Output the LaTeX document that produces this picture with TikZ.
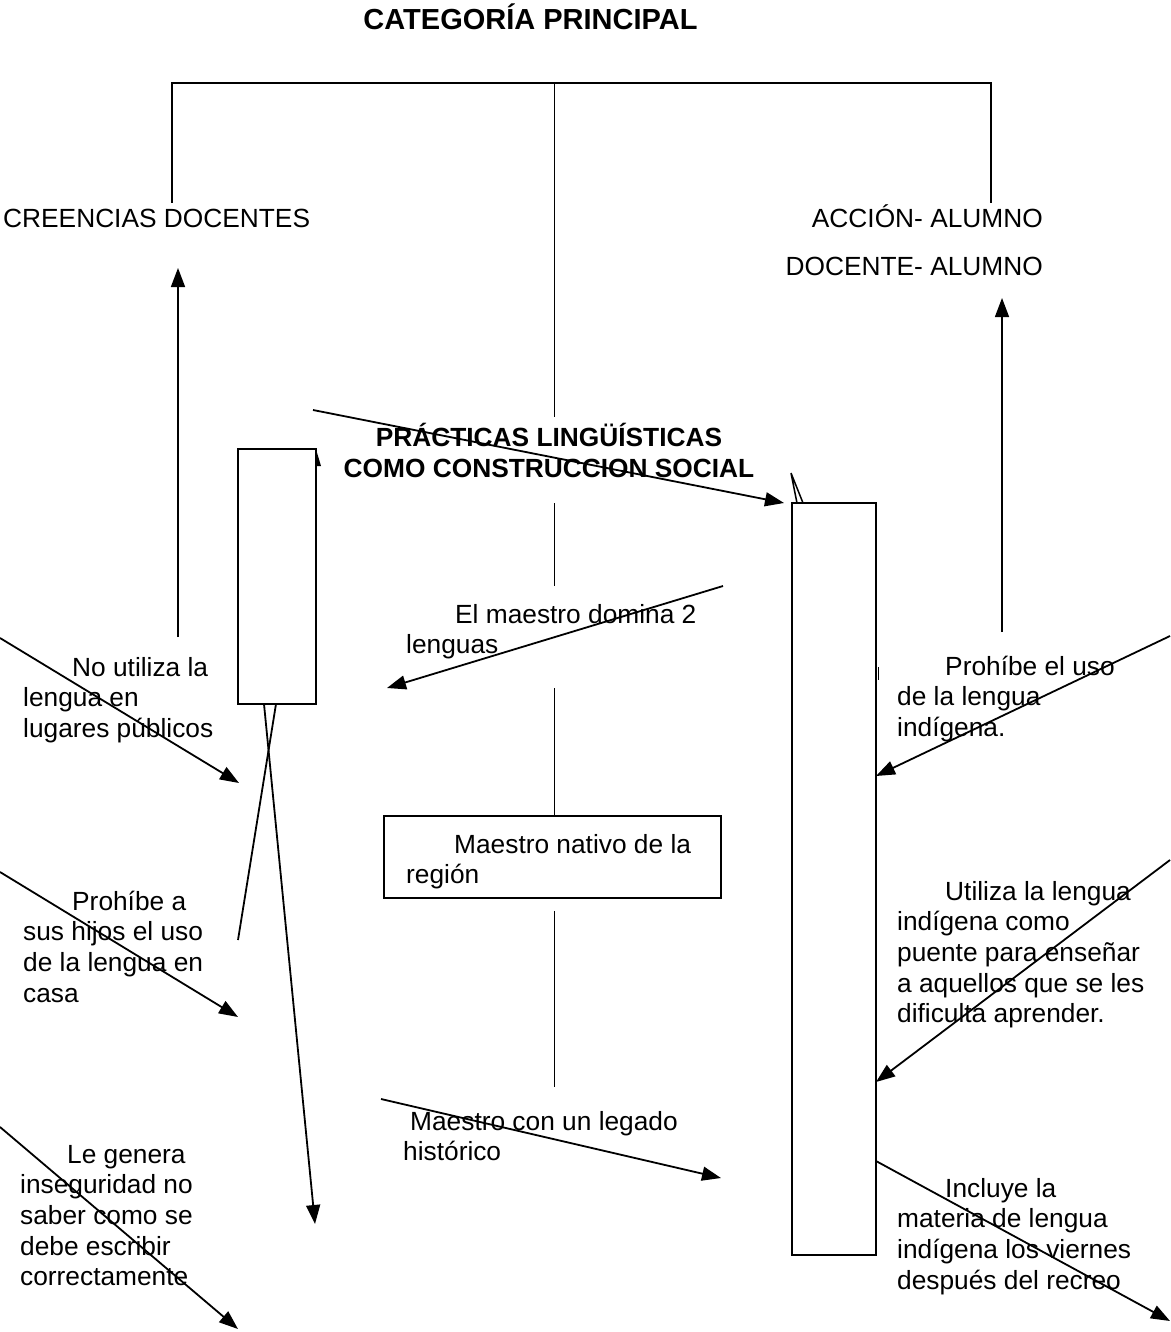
\documentclass[tikz,border=0pt]{standalone}
\usepackage{fontspec}
\setmainfont{Liberation Sans}
\usetikzlibrary{arrows.meta}
\newcommand\tst{\rule{0pt}{26pt}}
\tikzset{
  ln/.style={line width=1.8pt},
  arr/.style={line width=1.8pt, -{Triangle[length=19pt,width=14pt]}},
  bx/.style={draw, line width=1.6pt, inner sep=0pt, fill=white},
  body/.style={font=\fontsize{26.3pt}{30.6pt}\selectfont, inner sep=0pt, align=left, anchor=north west},
  lbl/.style={font=\fontsize{26.3pt}{30.6pt}\selectfont, inner sep=0pt},
}
\begin{document}
\begin{tikzpicture}[x=1pt,y=-1pt]
\useasboundingbox (0,0) rectangle (1170,1332);

% title and bracket
\node[lbl, font=\bfseries\fontsize{29pt}{33pt}\selectfont, anchor=base] (title) at (530.5,30) {CATEGORÍA PRINCIPAL};
\coordinate (bL) at (172,203);
\coordinate (bR) at (991,203);
\coordinate (bTL) at (172,83);
\coordinate (bTR) at (991,83);
\coordinate (bTC) at (554.5,83);
\coordinate (bC) at (554.5,417);
\draw[ln, line width=1.5pt] (bL) -- (bTL) -- (bTR) -- (bR);
\draw[ln, line width=1.5pt] (bTC) -- (bC);

% category labels
\node[lbl, anchor=base west] (creencias) at (3,228) {CREENCIAS DOCENTES};
\node[lbl, anchor=base east] (accion) at (1043,228) {ACCIÓN- ALUMNO};
\node[lbl, anchor=base east] (docente) at (1043,275) {DOCENTE- ALUMNO};

% up arrows
\coordinate (upLs) at (178,637);
\coordinate (upLe) at (178,268);
\coordinate (upRs) at (1002,632);
\coordinate (upRe) at (1002,298);
\draw[arr, line width=1.5pt] (upLs) -- (upLe);
\draw[arr, line width=1.5pt] (upRs) -- (upRe);

% rectangles
\node[bx, minimum width=78pt, minimum height=255pt] (rectL) at (277,576.5) {};
\node[bx, minimum width=84pt, minimum height=752pt] (rectR) at (834,879) {};
\node[bx, minimum width=337pt, minimum height=82pt] (boxM) at (552.5,857) {};

% central heading
\node[lbl, font=\bfseries\fontsize{26.3pt}{31pt}\selectfont, align=center, anchor=north] (prac) at (549,420)
  {\tst PRÁCTICAS LINGÜÍSTICAS\\COMO CONSTRUCCION SOCIAL};

% central vertical segments
\coordinate (c1a) at (554.5,503);
\coordinate (c1b) at (554.5,586);
\coordinate (c2a) at (554.5,688);
\coordinate (c3b) at (554.5,1087);
\draw[ln, line width=1.5pt] (c1a) -- (c1b);
\draw[ln, line width=1.5pt] (c2a) -- (boxM.north -| c2a);
\draw[ln, line width=1.5pt] (boxM.south -| c3b) ++(0,12) -- (c3b);

% long arrow to right rectangle
\coordinate (longS) at (313,410);
\coordinate (longE) at (784,503);
\draw[arr] (longS) -- (longE);

% small marks
\coordinate (vA) at (791,473);
\coordinate (vB) at (797,503);
\coordinate (vC) at (803,503);
\draw[line width=1.5pt] (vB) -- (vA) -- (vC);
\coordinate (tA) at (316.5,451);
\coordinate (tB) at (321,466);
\coordinate (tC) at (316.5,466);
\fill (tA) -- (tB) -- (tC) -- cycle;
\coordinate (mA) at (878,667);
\coordinate (mB) at (878,680);
\draw[line width=1pt] (mA) -- (mB);

% left texts
\node[body] (tNo) at (23,650) {\tst\hspace*{49pt}No utiliza la\\lengua en\\lugares públicos};
\node[body] (tProA) at (23,884) {\tst\hspace*{49pt}Prohíbe a\\sus hijos el uso\\de la lengua en\\casa};
\node[body] (tLe) at (20,1137) {\tst\hspace*{47pt}Le genera\\inseguridad no\\saber como se\\debe escribir\\correctamente};

% centre texts
\node[body] (tDom) at (406,597) {\tst\hspace*{49pt}El maestro domina 2\\lenguas};
\node[body] (tNat) at (406,827) {\tst\hspace*{48pt}Maestro nativo de la\\región};
\node[body] (tLeg) at (403,1104) {\tst\hspace*{7pt}Maestro con un legado\\histórico};

% right texts
\node[body] (tProU) at (897,649) {\tst\hspace*{48pt}Prohíbe el uso\\de la lengua\\indígena.};
\node[body] (tUti) at (897,874) {\tst\hspace*{48pt}Utiliza la lengua\\indígena como\\puente para enseñar\\a aquellos que se les\\dificulta aprender.};
\node[body] (tInc) at (897,1171) {\tst\hspace*{48pt}Incluye la\\materia de lengua\\indígena los viernes\\después del recreo};

% left arrows
\coordinate (aNoS) at (0,638);
\coordinate (aNoE) at (239,783);
\coordinate (aProS) at (0,872);
\coordinate (aProE) at (238,1017);
\coordinate (aLeS) at (0,1127);
\coordinate (aLeE) at (238,1329);
\draw[arr] (aNoS) -- (aNoE);
\draw[arr] (aProS) -- (aProE);
\draw[arr] (aLeS) -- (aLeE);

% crossing lines under left rectangle
\coordinate (xAs) at (264,704);
\coordinate (xAe) at (315,1224);
\coordinate (xBs) at (276,704);
\coordinate (xBe) at (238,940);
\draw[arr] (xAs) -- (xAe);
\draw[ln] (xBs) -- (xBe);

% centre arrows
\coordinate (aDomS) at (723,586);
\coordinate (aDomE) at (387,688);
\coordinate (aLegS) at (381,1099);
\coordinate (aLegE) at (721,1178);
\draw[arr] (aDomS) -- (aDomE);
\draw[arr] (aLegS) -- (aLegE);

% right arrows
\coordinate (aPUs) at (1170,636);
\coordinate (aPUe) at (876,776);
\coordinate (aUtS) at (1170,860);
\coordinate (aUtE) at (876,1082);
\coordinate (aIncS) at (876,1161);
\coordinate (aIncE) at (1170,1321);
\draw[arr] (aPUs) -- (aPUe);
\draw[arr] (aUtS) -- (aUtE);
\draw[arr] (aIncS) -- (aIncE);
\end{tikzpicture}
\end{document}
